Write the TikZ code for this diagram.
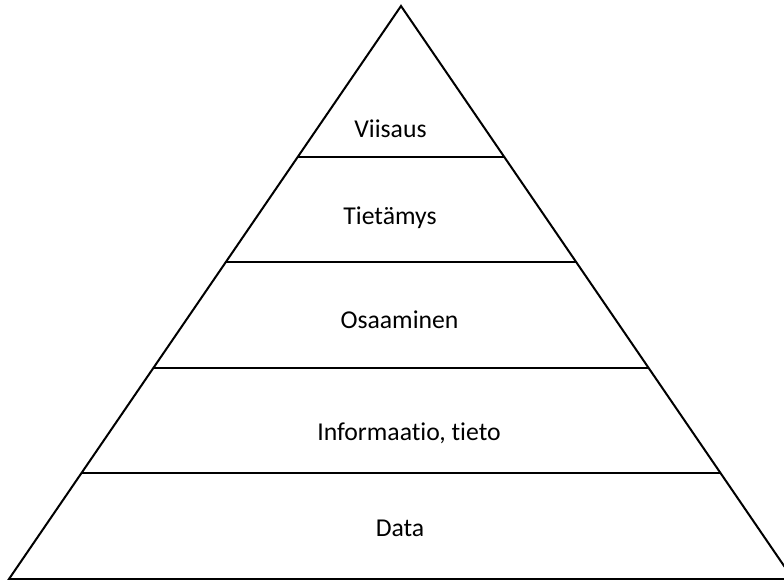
\documentclass[tikz,border=0pt]{standalone}
\usepackage{fontspec}
\setmainfont[Ligatures={NoCommon}]{Carlito}
\usetikzlibrary{calc}
\begin{document}
\begin{tikzpicture}[x=1pt,y=-1pt,
  edge/.style={draw=black,line width=2pt,line join=miter},
  lbl/.style={anchor=base,inner sep=0pt,font=\fontsize{25.7}{30}\selectfont}]
\useasboundingbox (0,0) rectangle (784,580);
\clip (0,0) rectangle (784,580);
\coordinate (apex) at (401,6);
\coordinate (bl) at (9,579);
\coordinate (br) at (793,579);
\draw[edge] (bl) -- (apex) -- (br) -- cycle;
\foreach \y/\n in {157.3/a,262.5/b,368.5/c,472.8/d}{
  \pgfmathsetmacro{\t}{(\y-6)/573}
  \coordinate (L\n) at ($(apex)!\t!(bl)$);
  \coordinate (R\n) at ($(apex)!\t!(br)$);
  \draw[edge] (L\n) -- (R\n);
}
\node[lbl] (viisaus) at (390.5,137.3) {Viisaus};
\node[lbl] (tietamys) at (390,225) {Tietämys};
\node[lbl] (osaaminen) at (399.5,328.3) {Osaaminen};
\node[lbl] (informaatio) at (409,440.7) {Informaatio, tieto};
\node[lbl] (data) at (400,536) {Data};
\end{tikzpicture}
\end{document}
